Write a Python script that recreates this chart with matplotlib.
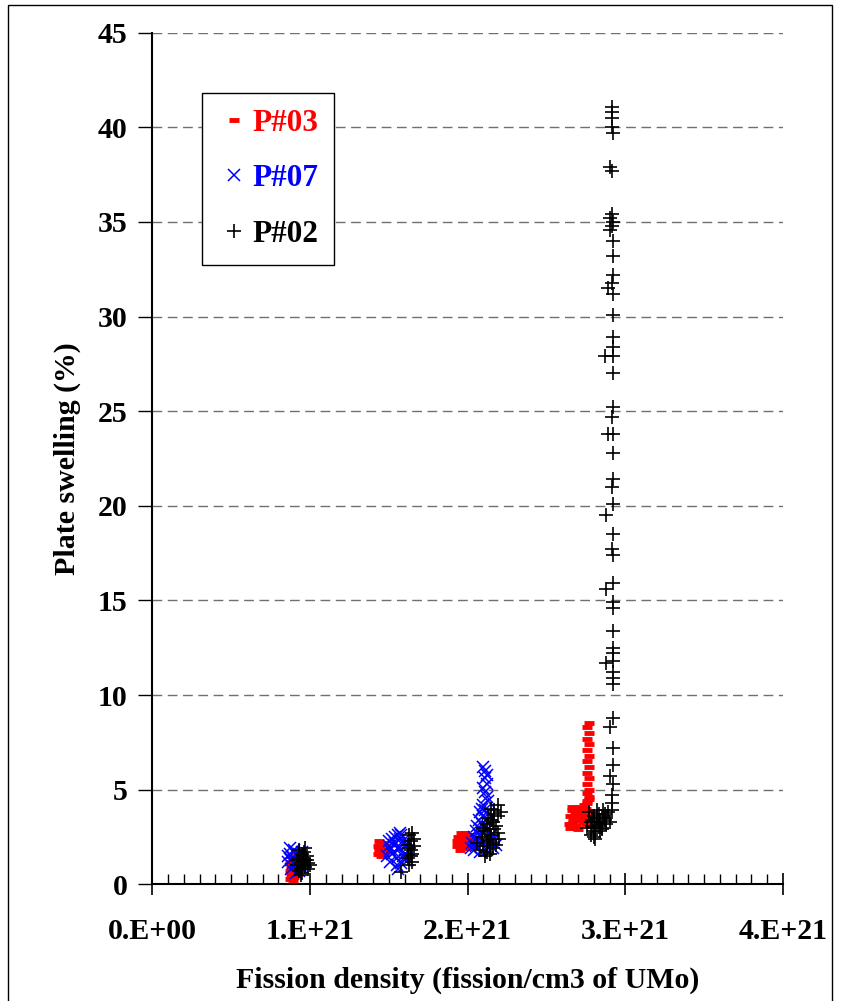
import numpy as np
import matplotlib
matplotlib.use("Agg")
import matplotlib.pyplot as plt
from matplotlib.patches import Rectangle
from matplotlib.ticker import MultipleLocator

# fission density in units of 1E+21 fission/cm3, swelling in %
# P#03
p03_x = [0.87, 0.88, 0.87, 0.89, 0.88, 0.90, 0.89, 0.91, 0.90, 0.88, 0.89, 0.91, 0.87, 0.90,
         1.43, 1.44, 1.45, 1.46, 1.44, 1.47, 1.45, 1.46, 1.48, 1.43, 1.47, 1.44, 1.46,
         1.93, 1.94, 1.95, 1.96, 1.97, 1.98, 1.99, 2.00, 2.01, 2.02, 1.94, 1.96, 1.98, 2.00,
         2.02, 1.95, 1.97, 1.99, 1.93, 2.01,
         2.64, 2.65, 2.66, 2.67, 2.68, 2.69, 2.70, 2.71, 2.72, 2.73, 2.74, 2.75, 2.76, 2.77,
         2.65, 2.67, 2.69, 2.71, 2.73, 2.75, 2.77, 2.66, 2.68, 2.70, 2.72, 2.74, 2.76, 2.69, 2.71,
         2.77, 2.76, 2.77, 2.76, 2.77, 2.76, 2.77, 2.76, 2.77, 2.76, 2.77, 2.76, 2.77, 2.76,
         2.77, 2.76]
p03_y = [0.3, 0.5, 0.7, 0.4, 0.9, 0.6, 1.1, 0.8, 1.3, 1.5, 0.2, 1.0, 1.2, 0.4,
         1.6, 1.9, 2.1, 1.7, 2.3, 1.8, 1.5, 2.2, 2.0, 2.0, 1.6, 1.8, 1.9,
         2.0, 2.5, 2.2, 2.7, 1.9, 2.4, 2.1, 2.6, 2.3, 2.0, 2.2, 2.4, 2.7, 2.2,
         2.5, 1.8, 2.6, 1.9, 2.3, 2.6,
         3.2, 3.6, 3.9, 3.4, 3.7, 3.1, 3.5, 3.8, 4.1, 3.3, 3.6, 4.0, 4.3, 4.5,
         3.0, 3.3, 3.9, 3.4, 3.7, 3.2, 3.8, 4.1, 3.5, 2.9, 3.6, 4.2, 3.4, 3.0, 3.9,
         8.5, 8.3, 8.0, 7.7, 7.4, 7.1, 6.8, 6.5, 6.2, 5.9, 5.6, 5.3, 5.0, 4.8,
         4.6, 4.4]

# P#07
p07_x = [0.86, 0.87, 0.88, 0.89, 0.90, 0.91, 0.92, 0.93, 0.94, 0.95, 0.87, 0.89, 0.91, 0.93,
         0.95, 0.88, 0.90, 0.92, 0.94, 0.86,
         1.49, 1.50, 1.51, 1.52, 1.53, 1.54, 1.55, 1.56, 1.57, 1.58, 1.59, 1.60, 1.61, 1.62,
         1.63, 1.50, 1.52, 1.54, 1.56, 1.58, 1.60, 1.62, 1.51, 1.53, 1.55, 1.57, 1.59, 1.61,
         1.56, 1.57,
         2.10, 2.11, 2.12, 2.11, 2.12, 2.10, 2.11, 2.12, 2.13, 2.10, 2.09, 2.11, 2.13, 2.08,
         2.10, 2.12, 2.07, 2.09, 2.11, 2.06, 2.08, 2.10, 2.05, 2.07, 2.04, 2.06, 2.03, 2.05,
         2.02, 2.04, 2.08, 2.12, 2.16, 2.18, 2.14, 2.06, 2.10, 2.15, 2.17]
p07_y = [1.2, 1.6, 0.8, 1.4, 1.8, 1.0, 1.5, 0.7, 1.3, 1.7, 1.9, 1.1, 0.6, 1.6,
         1.0, 1.3, 1.7, 1.2, 0.9, 1.5,
         1.5, 2.0, 1.2, 2.4, 1.7, 2.2, 1.4, 2.6, 1.9, 1.1, 2.3, 1.6, 2.1, 1.3,
         1.8, 2.3, 1.6, 2.5, 1.9, 2.6, 1.3, 2.2, 1.8, 2.1, 1.0, 2.4, 1.5, 2.0,
         0.8, 2.7,
         6.2, 6.0, 5.8, 5.6, 5.3, 5.1, 4.9, 4.6, 4.4, 4.2, 4.0, 3.9, 3.7, 3.8,
         3.6, 3.4, 3.4, 3.2, 3.0, 3.1, 2.9, 2.7, 2.8, 2.6, 2.5, 2.3, 2.2, 2.0,
         1.9, 1.8, 1.7, 1.8, 1.9, 2.1, 2.3, 2.4, 2.2, 2.6, 2.4]

# P#02
p02_x = [0.92, 0.93, 0.94, 0.95, 0.96, 0.97, 0.98, 0.99, 0.93, 0.95, 0.97, 0.99, 0.92, 0.94,
         0.96, 0.98, 1.00, 0.95, 0.97, 0.94, 0.96, 0.93,
         1.62, 1.63, 1.64, 1.65, 1.66, 1.63, 1.65, 1.64, 1.66, 1.62, 1.64, 1.65, 1.63, 1.575,
         2.08, 2.10, 2.12, 2.14, 2.16, 2.18, 2.20, 2.09, 2.11, 2.13, 2.15, 2.17, 2.19,
         2.10, 2.12, 2.14, 2.16, 2.18, 2.13, 2.15, 2.17, 2.19, 2.15, 2.17, 2.19, 2.21,
         2.11, 2.14, 2.06, 2.12,
         2.76, 2.78, 2.80, 2.82, 2.84, 2.86, 2.88, 2.77, 2.79, 2.81, 2.83, 2.85, 2.87, 2.89,
         2.78, 2.80, 2.82, 2.84, 2.86, 2.88, 2.79, 2.81, 2.83, 2.85, 2.87, 2.80, 2.82, 2.84,
         2.81, 2.90,
         2.915, 2.915, 2.915, 2.915, 2.92, 2.905, 2.915, 2.915, 2.905, 2.92, 2.915, 2.905,
         2.92, 2.92, 2.92, 2.915, 2.89, 2.92, 2.92, 2.92, 2.92, 2.87, 2.92, 2.92, 2.92,
         2.915, 2.89, 2.92, 2.92, 2.92, 2.915, 2.92, 2.88, 2.92, 2.915, 2.92, 2.92, 2.88,
         2.92, 2.92, 2.92, 2.92, 2.92, 2.92, 2.875, 2.92, 2.92, 2.92, 2.92, 2.90, 2.92,
         2.92, 2.90, 2.92, 2.915, 2.915, 2.915]
p02_y = [1.0, 1.4, 0.8, 1.6, 1.2, 0.9, 1.5, 1.1, 1.8, 0.6, 1.3, 0.8, 1.3, 1.1,
         1.7, 1.3, 1.0, 1.0, 1.9, 0.5, 1.4, 0.7,
         1.4, 1.9, 2.3, 1.6, 2.0, 2.6, 1.2, 1.8, 2.4, 2.1, 1.5, 2.7, 1.0, 0.65,
         1.8, 2.0, 1.7, 2.2, 1.9, 2.1, 2.4, 2.5, 2.8, 2.3, 2.6, 2.9, 2.7,
         3.0, 3.2, 2.9, 3.3, 3.1, 3.5, 3.4, 3.7, 3.6, 4.0, 3.9, 4.2, 3.8,
         1.5, 1.6, 2.2, 2.4,
         3.0, 3.3, 2.8, 3.5, 3.1, 3.6, 3.2, 3.8, 3.4, 3.0, 3.7, 2.9, 3.4, 3.8,
         2.6, 3.6, 3.9, 3.2, 3.9, 3.5, 3.1, 2.7, 3.3, 3.0, 3.7, 2.5, 3.5, 2.8,
         2.4, 3.3,
         41.1, 40.8, 40.5, 40.0, 39.7, 37.9, 37.7, 35.4, 35.2, 35.0, 34.8, 34.6,
         34.0, 33.2, 32.2, 31.8, 31.5, 31.2, 30.1, 28.9, 28.4, 27.9, 27.9, 27.0, 25.2,
         24.7, 23.8, 23.8, 22.8, 21.4, 21.0, 20.1, 19.5, 18.5, 17.7, 17.4, 15.9, 15.6,
         14.9, 14.6, 13.4, 12.5, 12.2, 11.8, 11.7, 11.2, 10.9, 10.6, 8.8, 8.3, 7.2,
         6.3, 5.7, 5.3, 4.7, 4.3, 3.9]

x_ticks = [0, 1, 2, 3, 4]
x_tick_labels = ["0.E+00", "1.E+21", "2.E+21", "3.E+21", "4.E+21"]
y_ticks = [0, 5, 10, 15, 20, 25, 30, 35, 40, 45]

plt.rcParams["font.family"] = ["Liberation Serif", "DejaVu Serif"]
plt.rcParams["font.weight"] = "bold"

fig = plt.figure(figsize=(8.44, 10.01), dpi=100)
ax = fig.add_axes([0.1805, 0.1166, 0.7472, 0.8507])

e21 = 1e21
ax.plot(np.array(p03_x) * e21, p03_y, linestyle="none", marker="_", color="red",
        ms=7, mew=3.5, label="P#03")
ax.plot(np.array(p07_x) * e21, p07_y, linestyle="none", marker="x", color="blue",
        ms=8.5, mew=1.1, label="P#07")
ax.plot(np.array(p02_x) * e21, p02_y, linestyle="none", marker="+", color="black",
        ms=10, mew=1.2, label="P#02")

ax.set_xlim(0, 4 * e21)
ax.set_ylim(0, 45)
ax.set_xticks([t * e21 for t in x_ticks])
ax.set_xticklabels(x_tick_labels)
ax.xaxis.set_minor_locator(MultipleLocator(0.1 * e21))
ax.set_yticks(y_ticks)

for y in y_ticks[1:]:
    ax.axhline(y, color="#707070", lw=1, linestyle=(0, (7, 4)), zorder=0)

for s in ["top", "right"]:
    ax.spines[s].set_visible(False)
for s in ["left", "bottom"]:
    ax.spines[s].set_linewidth(1.5)

ax.tick_params(axis="x", which="major", direction="inout", length=16, width=1.2,
               labelsize=21.5, pad=16)
ax.tick_params(axis="x", which="minor", direction="in", length=7, width=1)
ax.tick_params(axis="y", which="major", direction="out", length=10, width=1,
               labelsize=21.5, pad=8)

ax.set_xlabel("Fission density (fission/cm3 of UMo)", fontsize=21.5, fontweight="bold",
              labelpad=16)
ax.set_ylabel("Plate swelling (%)", fontsize=21.5, fontweight="bold", labelpad=12)

leg = ax.legend(loc="upper left", bbox_to_anchor=(0.0788, 0.929), fontsize=22.5,
                frameon=True, fancybox=False, edgecolor="black", framealpha=1,
                handlelength=1.05, handletextpad=0.05, labelspacing=0.85, borderpad=0.5,
                borderaxespad=0)
leg.get_frame().set_linewidth(1)
for txt, c in zip(leg.get_texts(), ["red", "blue", "black"]):
    txt.set_color(c)

fig.patches.append(Rectangle((8 / 844, -0.01), 824 / 844, 1.0 - 5 / 1001 + 0.01,
                             transform=fig.transFigure, fill=False, edgecolor="black",
                             lw=1))

fig.savefig("out.png", dpi=100)
